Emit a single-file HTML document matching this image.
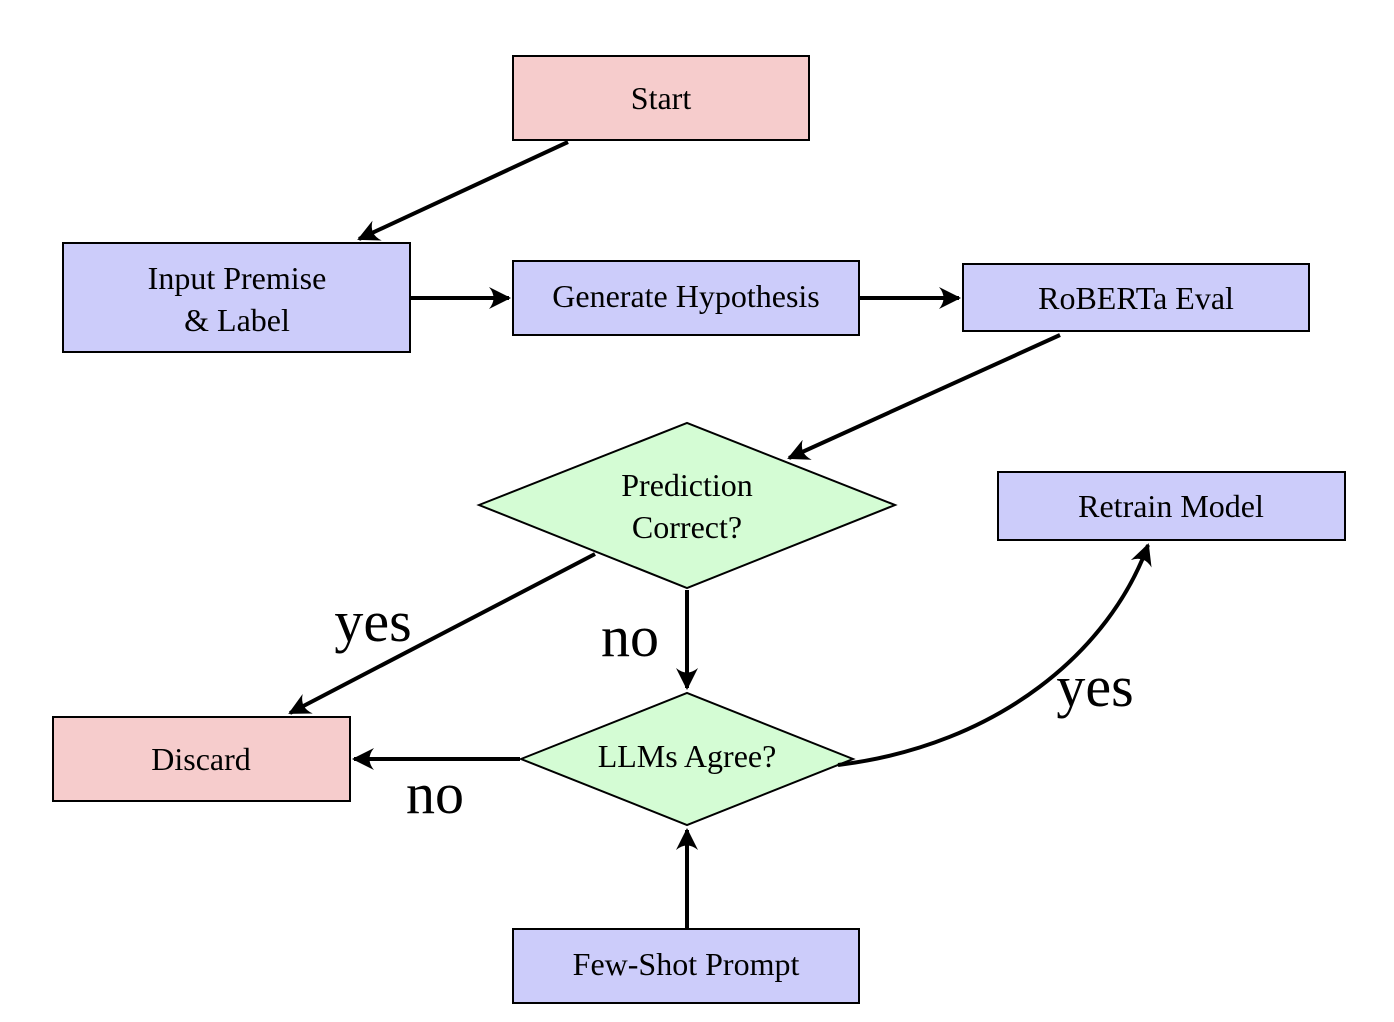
<!DOCTYPE html>
<html><head><style>body{margin:0;background:#fff}svg{display:block}text{font-family:"Liberation Serif",serif}</style></head><body>
<svg width="1394" height="1022" viewBox="0 0 1394 1022" xmlns="http://www.w3.org/2000/svg">
<defs><marker id="a" markerWidth="24" markerHeight="24" refX="20" refY="12" orient="auto" markerUnits="userSpaceOnUse" viewBox="0 0 24 24"><path d="M0,1 Q9,12 0,23 L22,12 Z" fill="#000"/></marker></defs>
<g stroke="#000" stroke-width="2">
<rect x="513" y="56" width="296" height="84" fill="#f6cccc"/>
<rect x="63" y="243" width="347" height="109" fill="#ccccfa"/>
<rect x="513" y="261" width="346" height="74" fill="#ccccfa"/>
<rect x="963" y="264" width="346" height="67" fill="#ccccfa"/>
<polygon points="479,505 687,423 895,505 687,588" fill="#d4fcd4"/>
<rect x="998" y="472" width="347" height="68" fill="#ccccfa"/>
<rect x="53" y="717" width="297" height="84" fill="#f6cccc"/>
<polygon points="521,759 687,693 853,759 687,825" fill="#d4fcd4"/>
<rect x="513" y="929" width="346" height="74" fill="#ccccfa"/>
</g>
<g stroke="#000" stroke-width="4" fill="none" marker-end="url(#a)">
<line x1="568" y1="142" x2="359" y2="239"/>
<line x1="410" y1="298" x2="509" y2="298"/>
<line x1="860" y1="298" x2="959" y2="298"/>
<line x1="1060" y1="335" x2="789" y2="458"/>
<line x1="595" y1="554" x2="290" y2="713"/>
<line x1="687" y1="590" x2="687" y2="688"/>
<line x1="520" y1="759" x2="354" y2="759"/>
<line x1="687" y1="928" x2="687" y2="830"/>
<path d="M838,765 C1000,745 1110,650 1148,545"/>
</g>
<g font-size="32" text-anchor="middle">
<text x="661" y="109">Start</text>
<text x="237" y="289">Input Premise</text>
<text x="237" y="331">&amp; Label</text>
<text x="686" y="307">Generate Hypothesis</text>
<text x="1136" y="309">RoBERTa Eval</text>
<text x="687" y="496">Prediction</text>
<text x="687" y="538">Correct?</text>
<text x="1171" y="517">Retrain Model</text>
<text x="201" y="770">Discard</text>
<text x="687" y="767">LLMs Agree?</text>
<text x="686" y="975">Few-Shot Prompt</text>
</g>
<g font-size="58" text-anchor="middle">
<text x="373" y="641">yes</text>
<text x="630" y="656">no</text>
<text x="435" y="813">no</text>
<text x="1095" y="706">yes</text>
</g>
</svg>
</body></html>
